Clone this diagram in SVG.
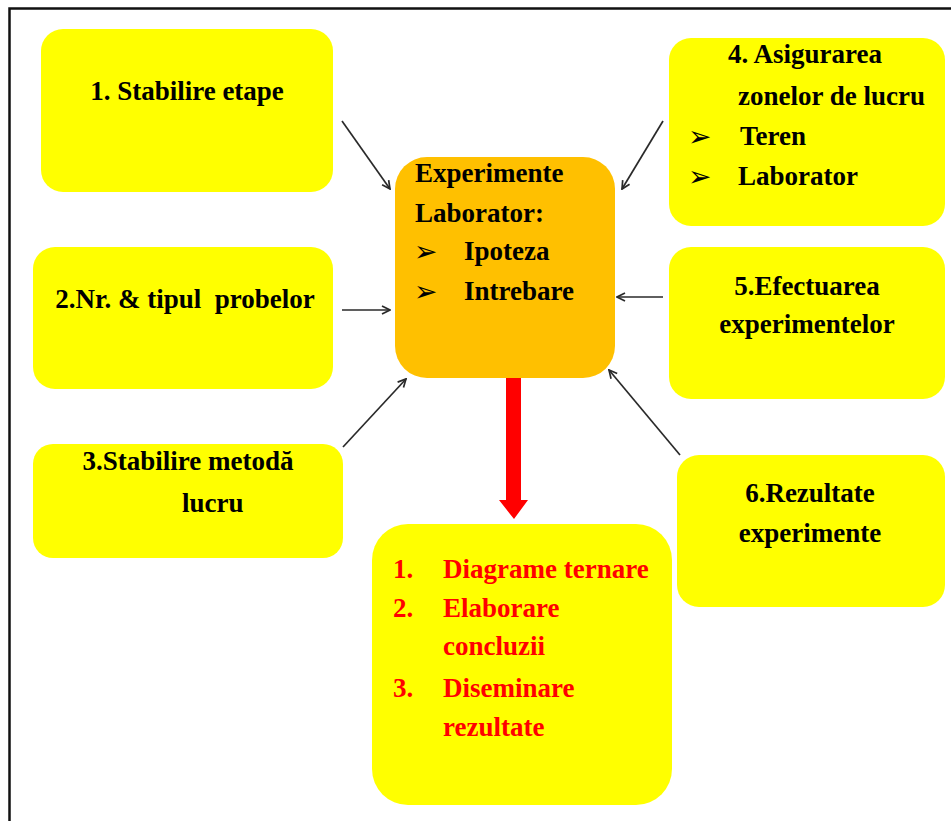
<svg xmlns="http://www.w3.org/2000/svg" width="951" height="821" viewBox="0 0 951 821">
  <defs>
    <style>
      .box { fill: #FFFF00; }
      .hub { fill: #FFC000; }
      .t { font-family: "Liberation Serif", "Times New Roman", serif; font-weight: bold; font-size: 27px; fill: #000; }
      .r { fill: #FF0000; }
      .c { text-anchor: middle; }
      .bul { font-family: "DejaVu Sans", sans-serif; font-weight: bold; font-size: 28px; fill: #000; }
      .link { stroke: #2a2a2a; stroke-width: 1.7; fill: none; marker-end: url(#open); }
    </style>
    <marker id="open" viewBox="0 0 10 10" refX="9" refY="5" markerWidth="10" markerHeight="10" markerUnits="userSpaceOnUse" orient="auto">
      <path d="M1,1 L9,5 L1,9" fill="none" stroke="#2a2a2a" stroke-width="1.7"/>
    </marker>
  </defs>

  <rect width="951" height="821" fill="#FFFFFF"/>
  <!-- frame -->
  <rect x="9.5" y="8.5" width="960" height="830" fill="none" stroke="#111" stroke-width="2.5"/>

  <g id="connectors">
    <line class="link" x1="342" y1="121" x2="390" y2="189"/>
    <line class="link" x1="663" y1="121" x2="622" y2="189"/>
    <line class="link" x1="342" y1="310" x2="390" y2="310"/>
    <line class="link" x1="663" y1="297" x2="617" y2="297"/>
    <line class="link" x1="343" y1="447" x2="406" y2="379"/>
    <line class="link" x1="680" y1="455" x2="609" y2="370"/>
    <!-- result arrow -->
    <polygon points="506,374 521,374 521,500 528,500 514,519 499,500 506,500" fill="#FF0000"/>
  </g>

  <g id="step1">
    <rect class="box" x="41" y="29" width="292" height="163" rx="22"/>
    <text class="t c" x="187" y="100">1. Stabilire etape</text>
  </g>

  <g id="step2">
    <rect class="box" x="33" y="247" width="300" height="142" rx="22"/>
    <text class="t c" x="185" y="308" xml:space="preserve">2.Nr. &amp; tipul  probelor</text>
  </g>

  <g id="step3">
    <rect class="box" x="33" y="444" width="310" height="114" rx="20"/>
    <text class="t c" x="188" y="470">3.Stabilire metodă</text>
    <text class="t" x="182" y="512">lucru</text>
  </g>

  <g id="hub">
    <rect class="hub" x="395" y="157" width="220" height="221" rx="32"/>
    <text class="t" x="415" y="182">Experimente</text>
    <text class="t" x="415" y="222">Laborator:</text>
    <text class="bul" x="414" y="261">➢</text>
    <text class="t" x="464" y="260">Ipoteza</text>
    <text class="bul" x="414" y="301">➢</text>
    <text class="t" x="464" y="300">Intrebare</text>
  </g>

  <g id="step4">
    <rect class="box" x="669" y="38" width="276" height="188" rx="22"/>
    <text class="t" x="728" y="63">4. Asigurarea</text>
    <text class="t" x="738" y="105">zonelor de lucru</text>
    <text class="bul" x="688" y="146">➢</text>
    <text class="t" x="740" y="145">Teren</text>
    <text class="bul" x="688" y="186">➢</text>
    <text class="t" x="738" y="185">Laborator</text>
  </g>

  <g id="step5">
    <rect class="box" x="669" y="247" width="276" height="152" rx="22"/>
    <text class="t c" x="807" y="295">5.Efectuarea</text>
    <text class="t c" x="807" y="333">experimentelor</text>
  </g>

  <g id="step6">
    <rect class="box" x="677" y="455" width="268" height="152" rx="22"/>
    <text class="t c" x="810" y="502">6.Rezultate</text>
    <text class="t c" x="810" y="542">experimente</text>
  </g>

  <g id="results">
    <rect class="box" x="372" y="524" width="300" height="281" rx="36"/>
    <text class="t r" x="393" y="578">1.</text>
    <text class="t r" x="443" y="578">Diagrame ternare</text>
    <text class="t r" x="393" y="617">2.</text>
    <text class="t r" x="443" y="617">Elaborare</text>
    <text class="t r" x="443" y="655">concluzii</text>
    <text class="t r" x="393" y="697">3.</text>
    <text class="t r" x="443" y="697">Diseminare</text>
    <text class="t r" x="443" y="736">rezultate</text>
  </g>
</svg>
